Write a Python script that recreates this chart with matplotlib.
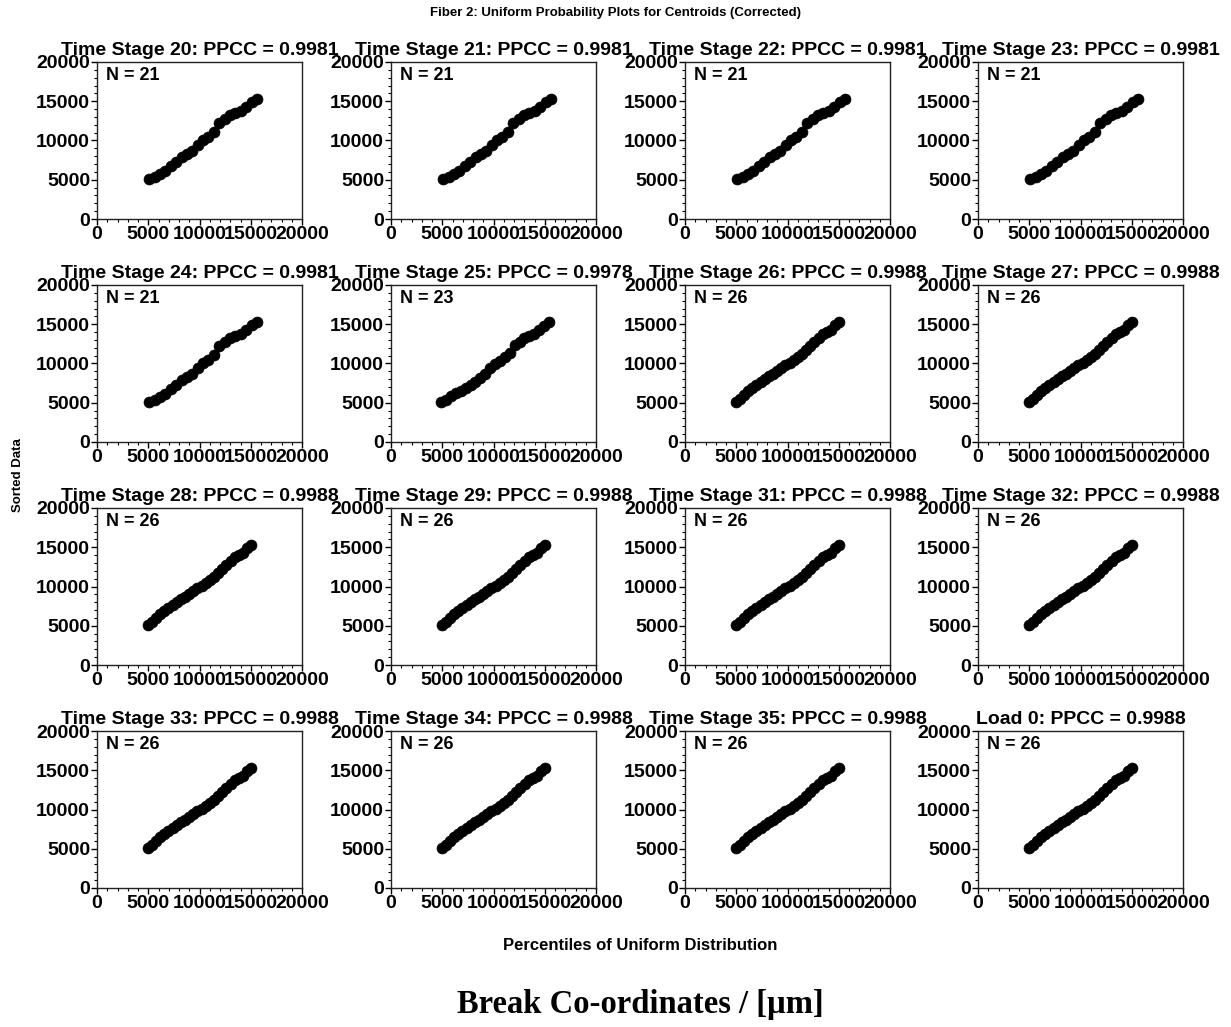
import matplotlib
matplotlib.use("Agg")
import matplotlib.pyplot as plt
from matplotlib.ticker import MultipleLocator

plt.rcParams['font.family'] = ['Liberation Sans', 'DejaVu Sans']

# Panel titles and sample sizes
stages = ["Time Stage 20", "Time Stage 21", "Time Stage 22", "Time Stage 23",
          "Time Stage 24", "Time Stage 25", "Time Stage 26", "Time Stage 27",
          "Time Stage 28", "Time Stage 29", "Time Stage 31", "Time Stage 32",
          "Time Stage 33", "Time Stage 34", "Time Stage 35", "Load 0"]
ppcc = [0.9981, 0.9981, 0.9981, 0.9981,
        0.9981, 0.9978, 0.9988, 0.9988,
        0.9988, 0.9988, 0.9988, 0.9988,
        0.9988, 0.9988, 0.9988, 0.9988]
n_breaks = [21, 21, 21, 21,
            21, 23, 26, 26,
            26, 26, 26, 26,
            26, 26, 26, 26]

# Uniform percentiles and sorted centroid coordinates (um)
pct_21 = [5100, 5625, 6150, 6675, 7200, 7725, 8250, 8775, 9300, 9825, 10350,
          10875, 11400, 11925, 12450, 12975, 13500, 14025, 14550, 15075, 15600]
data_21 = [5100, 5350, 5700, 6100, 6700, 7300, 7900, 8300, 8700, 9400, 10000,
           10400, 11100, 12200, 12700, 13200, 13500, 13800, 14300, 14900, 15300]

pct_23 = [4900, 5380, 5850, 6330, 6810, 7290, 7760, 8240, 8720, 9200, 9670, 10150,
          10630, 11110, 11580, 12060, 12540, 13020, 13490, 13970, 14450, 14930, 15400]
data_23 = [5100, 5400, 5800, 6200, 6500, 6900, 7300, 7700, 8100, 8700, 9400, 9900,
           10300, 10800, 11400, 12300, 12700, 13200, 13500, 13800, 14300, 14800, 15300]

pct_26 = [4950, 5350, 5760, 6160, 6570, 6970, 7370, 7780, 8180, 8590, 8990, 9390, 9800,
          10200, 10610, 11010, 11410, 11820, 12220, 12630, 13030, 13430, 13840, 14240,
          14650, 15050]
data_26 = [5100, 5500, 6000, 6500, 6900, 7300, 7600, 8000, 8400, 8700, 9100, 9400, 9800,
           10100, 10400, 10800, 11200, 11700, 12200, 12700, 13300, 13700, 14000, 14300,
           14900, 15300]

series = {21: (pct_21, data_21), 23: (pct_23, data_23), 26: (pct_26, data_26)}

tick_vals = [0, 5000, 10000, 15000, 20000]

W, H = 1231, 1027
fig = plt.figure(figsize=(W / 100, H / 100), dpi=100)

col_left = [97, 391, 685, 978]
row_top = [62, 285, 508, 731]
ax_w, ax_h = 205, 157

for k in range(16):
    r, c = divmod(k, 4)
    left = col_left[c] / W
    bottom = (H - row_top[r] - ax_h) / H
    ax = fig.add_axes([left, bottom, ax_w / W, ax_h / H])
    xs, ys = series[n_breaks[k]]
    ax.scatter(xs, ys, s=62, color='black', edgecolors='black', linewidths=0.5,
               zorder=3, clip_on=False)
    ax.set_xlim(0, 20000)
    ax.set_ylim(0, 20000)
    ax.set_xticks(tick_vals)
    ax.set_yticks(tick_vals)
    ax.set_xticklabels([str(v) for v in tick_vals])
    ax.set_yticklabels([str(v) for v in tick_vals])
    ax.xaxis.set_minor_locator(MultipleLocator(1000))
    ax.yaxis.set_minor_locator(MultipleLocator(1000))
    ax.tick_params(which='major', direction='out', length=4, width=1,
                   labelsize=14, pad=1)
    ax.tick_params(which='minor', direction='out', length=2, width=0.8)
    for lab in ax.get_xticklabels() + ax.get_yticklabels():
        lab.set_fontweight('bold')
    for sp in ax.spines.values():
        sp.set_linewidth(1.0)
        sp.set_color('#222222')
    ax.set_title(f"{stages[k]}: PPCC = {ppcc[k]:.4f}", fontsize=14,
                 fontweight='bold', pad=5)
    ax.text(0.045, 0.965, f"N = {n_breaks[k]}", transform=ax.transAxes,
            fontsize=13, fontweight='bold', ha='left', va='top')

fig.text(615 / W, 1 - 13 / H,
         "Fiber 2: Uniform Probability Plots for Centroids (Corrected)",
         ha='center', va='center', fontsize=9.5, fontweight='bold')
fig.text(18 / W, 1 - 475 / H, "Sorted Data", rotation=90,
         ha='center', va='center', fontsize=9.5, fontweight='bold')
fig.text(640 / W, 1 - 946 / H, "Percentiles of Uniform Distribution",
         ha='center', va='center', fontsize=12, fontweight='bold')
fig.text(640 / W, 1 - 1004 / H, "Break Co-ordinates / [\u00b5m]",
         ha='center', va='center', fontsize=23.5, fontweight='bold',
         family=['Liberation Serif', 'DejaVu Serif'])

fig.savefig("out.png", dpi=100)
